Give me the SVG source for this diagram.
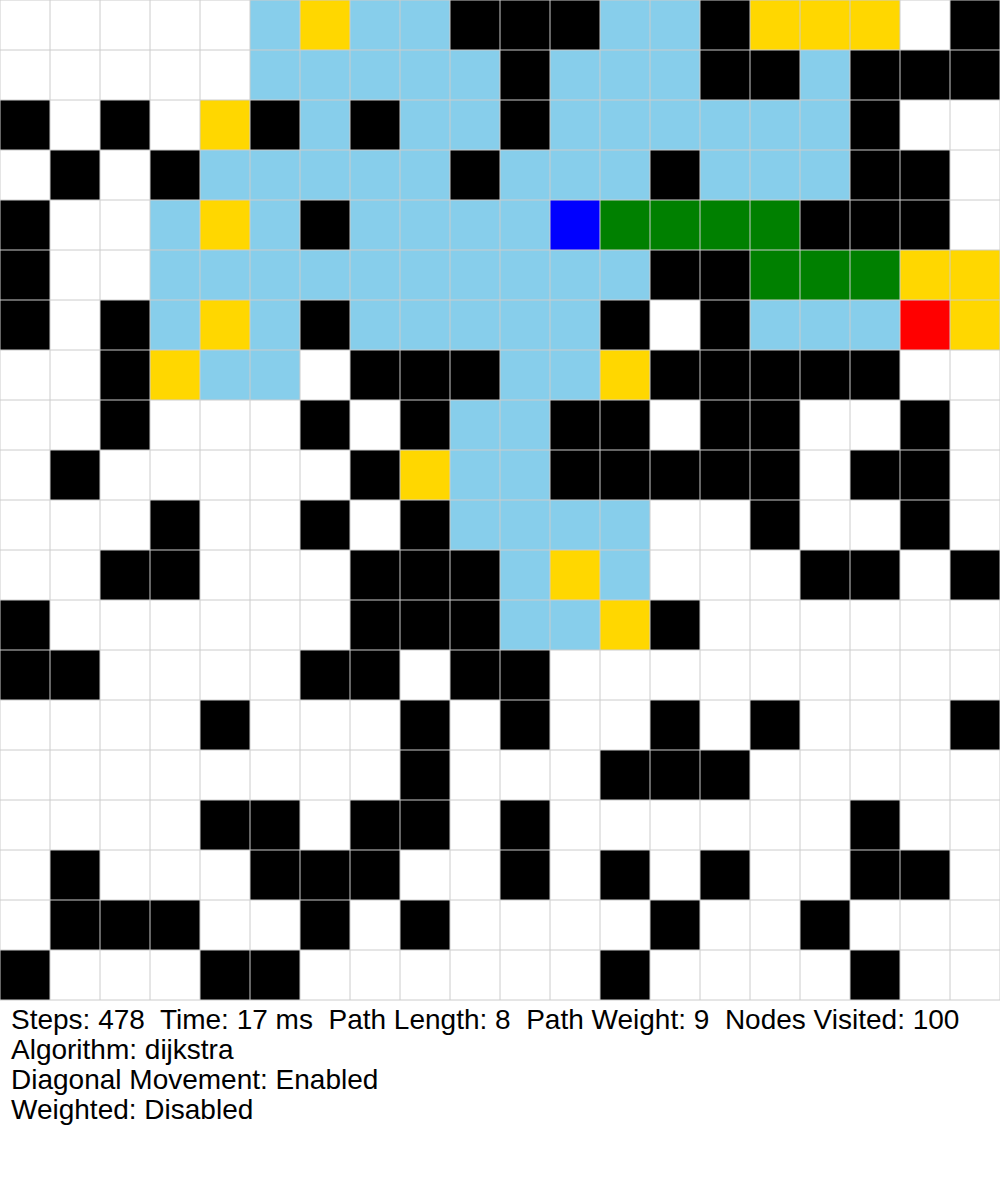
<svg xmlns="http://www.w3.org/2000/svg" width="1000" height="1200" viewBox="0 0 1000 1200">
<style>
.K{fill:#000}.L{fill:#87ceeb}.G{fill:#ffd700}.B{fill:#0000ff}.N{fill:#008000}.R{fill:#ff0000}
.grid{stroke:#cccccc;stroke-width:1;fill:none}
.info{font-family:"Liberation Sans",Arial,sans-serif;font-size:28px;fill:#000;white-space:pre}
</style>
<rect x="0" y="0" width="1000" height="1200" fill="#ffffff"/>
<g id="cells">
<rect class="K" x="450" y="0" width="150" height="50"/><rect class="K" x="700" y="0" width="50" height="50"/><rect class="K" x="950" y="0" width="50" height="50"/><rect class="L" x="250" y="0" width="50" height="50"/><rect class="L" x="350" y="0" width="100" height="50"/><rect class="L" x="600" y="0" width="100" height="50"/><rect class="G" x="300" y="0" width="50" height="50"/><rect class="G" x="750" y="0" width="150" height="50"/>
<rect class="K" x="500" y="50" width="50" height="50"/><rect class="K" x="700" y="50" width="100" height="50"/><rect class="K" x="850" y="50" width="150" height="50"/><rect class="L" x="250" y="50" width="250" height="50"/><rect class="L" x="550" y="50" width="150" height="50"/><rect class="L" x="800" y="50" width="50" height="50"/>
<rect class="K" x="0" y="100" width="50" height="50"/><rect class="K" x="100" y="100" width="50" height="50"/><rect class="K" x="250" y="100" width="50" height="50"/><rect class="K" x="350" y="100" width="50" height="50"/><rect class="K" x="500" y="100" width="50" height="50"/><rect class="K" x="850" y="100" width="50" height="50"/><rect class="G" x="200" y="100" width="50" height="50"/><rect class="L" x="300" y="100" width="50" height="50"/><rect class="L" x="400" y="100" width="100" height="50"/><rect class="L" x="550" y="100" width="300" height="50"/>
<rect class="K" x="50" y="150" width="50" height="50"/><rect class="K" x="150" y="150" width="50" height="50"/><rect class="K" x="450" y="150" width="50" height="50"/><rect class="K" x="650" y="150" width="50" height="50"/><rect class="K" x="850" y="150" width="100" height="50"/><rect class="L" x="200" y="150" width="250" height="50"/><rect class="L" x="500" y="150" width="150" height="50"/><rect class="L" x="700" y="150" width="150" height="50"/>
<rect class="K" x="0" y="200" width="50" height="50"/><rect class="K" x="300" y="200" width="50" height="50"/><rect class="K" x="800" y="200" width="150" height="50"/><rect class="L" x="150" y="200" width="50" height="50"/><rect class="L" x="250" y="200" width="50" height="50"/><rect class="L" x="350" y="200" width="200" height="50"/><rect class="G" x="200" y="200" width="50" height="50"/><rect class="B" x="550" y="200" width="50" height="50"/><rect class="N" x="600" y="200" width="200" height="50"/>
<rect class="K" x="0" y="250" width="50" height="50"/><rect class="K" x="650" y="250" width="100" height="50"/><rect class="L" x="150" y="250" width="500" height="50"/><rect class="N" x="750" y="250" width="150" height="50"/><rect class="G" x="900" y="250" width="100" height="50"/>
<rect class="K" x="0" y="300" width="50" height="50"/><rect class="K" x="100" y="300" width="50" height="50"/><rect class="K" x="300" y="300" width="50" height="50"/><rect class="K" x="600" y="300" width="50" height="50"/><rect class="K" x="700" y="300" width="50" height="50"/><rect class="L" x="150" y="300" width="50" height="50"/><rect class="L" x="250" y="300" width="50" height="50"/><rect class="L" x="350" y="300" width="250" height="50"/><rect class="L" x="750" y="300" width="150" height="50"/><rect class="G" x="200" y="300" width="50" height="50"/><rect class="G" x="950" y="300" width="50" height="50"/><rect class="R" x="900" y="300" width="50" height="50"/>
<rect class="K" x="100" y="350" width="50" height="50"/><rect class="K" x="350" y="350" width="150" height="50"/><rect class="K" x="650" y="350" width="250" height="50"/><rect class="G" x="150" y="350" width="50" height="50"/><rect class="G" x="600" y="350" width="50" height="50"/><rect class="L" x="200" y="350" width="100" height="50"/><rect class="L" x="500" y="350" width="100" height="50"/>
<rect class="K" x="100" y="400" width="50" height="50"/><rect class="K" x="300" y="400" width="50" height="50"/><rect class="K" x="400" y="400" width="50" height="50"/><rect class="K" x="550" y="400" width="100" height="50"/><rect class="K" x="700" y="400" width="100" height="50"/><rect class="K" x="900" y="400" width="50" height="50"/><rect class="L" x="450" y="400" width="100" height="50"/>
<rect class="K" x="50" y="450" width="50" height="50"/><rect class="K" x="350" y="450" width="50" height="50"/><rect class="K" x="550" y="450" width="250" height="50"/><rect class="K" x="850" y="450" width="100" height="50"/><rect class="G" x="400" y="450" width="50" height="50"/><rect class="L" x="450" y="450" width="100" height="50"/>
<rect class="K" x="150" y="500" width="50" height="50"/><rect class="K" x="300" y="500" width="50" height="50"/><rect class="K" x="400" y="500" width="50" height="50"/><rect class="K" x="750" y="500" width="50" height="50"/><rect class="K" x="900" y="500" width="50" height="50"/><rect class="L" x="450" y="500" width="200" height="50"/>
<rect class="K" x="100" y="550" width="100" height="50"/><rect class="K" x="350" y="550" width="150" height="50"/><rect class="K" x="800" y="550" width="100" height="50"/><rect class="K" x="950" y="550" width="50" height="50"/><rect class="L" x="500" y="550" width="50" height="50"/><rect class="G" x="550" y="550" width="50" height="50"/><rect class="L" x="600" y="550" width="50" height="50"/>
<rect class="K" x="0" y="600" width="50" height="50"/><rect class="K" x="350" y="600" width="150" height="50"/><rect class="K" x="650" y="600" width="50" height="50"/><rect class="L" x="500" y="600" width="100" height="50"/><rect class="G" x="600" y="600" width="50" height="50"/>
<rect class="K" x="0" y="650" width="100" height="50"/><rect class="K" x="300" y="650" width="100" height="50"/><rect class="K" x="450" y="650" width="100" height="50"/>
<rect class="K" x="200" y="700" width="50" height="50"/><rect class="K" x="400" y="700" width="50" height="50"/><rect class="K" x="500" y="700" width="50" height="50"/><rect class="K" x="650" y="700" width="50" height="50"/><rect class="K" x="750" y="700" width="50" height="50"/><rect class="K" x="950" y="700" width="50" height="50"/>
<rect class="K" x="400" y="750" width="50" height="50"/><rect class="K" x="600" y="750" width="150" height="50"/>
<rect class="K" x="200" y="800" width="100" height="50"/><rect class="K" x="350" y="800" width="100" height="50"/><rect class="K" x="500" y="800" width="50" height="50"/><rect class="K" x="850" y="800" width="50" height="50"/>
<rect class="K" x="50" y="850" width="50" height="50"/><rect class="K" x="250" y="850" width="150" height="50"/><rect class="K" x="500" y="850" width="50" height="50"/><rect class="K" x="600" y="850" width="50" height="50"/><rect class="K" x="700" y="850" width="50" height="50"/><rect class="K" x="850" y="850" width="100" height="50"/>
<rect class="K" x="50" y="900" width="150" height="50"/><rect class="K" x="300" y="900" width="50" height="50"/><rect class="K" x="400" y="900" width="50" height="50"/><rect class="K" x="650" y="900" width="50" height="50"/><rect class="K" x="800" y="900" width="50" height="50"/>
<rect class="K" x="0" y="950" width="50" height="50"/><rect class="K" x="200" y="950" width="100" height="50"/><rect class="K" x="600" y="950" width="50" height="50"/><rect class="K" x="850" y="950" width="50" height="50"/>
</g>
<path class="grid" d="M0 0V1000M50 0V1000M100 0V1000M150 0V1000M200 0V1000M250 0V1000M300 0V1000M350 0V1000M400 0V1000M450 0V1000M500 0V1000M550 0V1000M600 0V1000M650 0V1000M700 0V1000M750 0V1000M800 0V1000M850 0V1000M900 0V1000M950 0V1000M1000 0V1000M0 0H1000M0 50H1000M0 100H1000M0 150H1000M0 200H1000M0 250H1000M0 300H1000M0 350H1000M0 400H1000M0 450H1000M0 500H1000M0 550H1000M0 600H1000M0 650H1000M0 700H1000M0 750H1000M0 800H1000M0 850H1000M0 900H1000M0 950H1000M0 1000H1000"/>
<g id="info" class="info">
<text xml:space="preserve" x="11" y="1029">Steps: 478  Time: 17 ms  Path Length: 8  Path Weight: 9  Nodes Visited: 100</text>
<text x="11" y="1059">Algorithm: dijkstra</text>
<text x="11" y="1089">Diagonal Movement: Enabled</text>
<text x="11" y="1119">Weighted: Disabled</text>
</g>
</svg>
